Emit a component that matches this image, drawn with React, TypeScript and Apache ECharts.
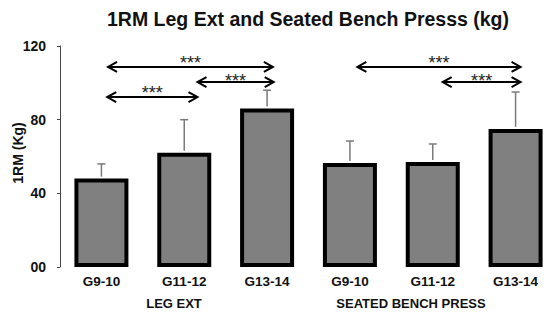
import React, { useEffect, useRef } from "react";
import * as echarts from "echarts";

const categories = ["G9-10", "G11-12", "G13-14", "G9-10", "G11-12", "G13-14"];
const means = [48, 62, 86, 56.5, 57, 75];
const errTops = [56, 80, 96, 68.4, 66.8, 95];
const yTicks = [0, 40, 80, 120];
const yName = "1RM (Kg)";
const groupLabels = ["LEG EXT", "SEATED BENCH PRESS"];
const groupLabelX = [174, 411];

// significance brackets (in category-index units)
const sigFrom = [0.08, 0.07, 1.16, 3.09, 4.12];
const sigTo = [2.07, 1.16, 2.08, 5.06, 5.06];
const sigY = [108.6, 92.3, 100.4, 108.6, 100.4];
const sigLabel = ["***", "***", "***", "***", "***"];
const sigLabelDy = [-4, -4, -1, -4, -1];

const FONT = "Liberation Sans, Arial, sans-serif";

export default function App() {
  const ref = useRef<HTMLDivElement>(null);
  useEffect(() => {
    if (!ref.current) return;
    const chart = echarts.init(ref.current, null, { renderer: "svg" });
    const option: any = {
      animation: false,
      backgroundColor: "#ffffff",
      title: {
        text: "1RM Leg Ext and Seated Bench Presss (kg)",
        left: 303,
        top: 4,
        textAlign: "center",
        textStyle: { fontFamily: FONT, fontSize: 19.5, fontWeight: "bold", color: "#111" },
      },
      grid: { left: 60, right: -7, top: 46, bottom: 56, outerBoundsMode: "none", containLabel: false },
      xAxis: [
        {
          type: "category",
          data: categories,
          axisLine: { show: false },
          axisTick: { show: false },
          axisLabel: {
            fontFamily: FONT,
            fontSize: 13.5,
            fontWeight: "bold",
            color: "#111",
            margin: 7,
          },
        },
        {
          type: "value",
          min: -0.5,
          max: 5.5,
          show: false,
        },
      ],
      yAxis: {
        type: "value",
        min: 0,
        max: 120,
        interval: 40,
        axisLine: { show: true, onZero: false, lineStyle: { color: "#444", width: 1 } },
        axisTick: { show: true, length: 3, lineStyle: { color: "#444" } },
        splitLine: { show: false },
        axisLabel: {
          fontFamily: FONT,
          fontSize: 14,
          fontWeight: "bold",
          color: "#111",
          margin: 14,
          formatter: (v: number) => (yTicks.indexOf(v) >= 0 ? (v === 0 ? "00" : String(v)) : ""),
        },
      },
      graphic: [
        {
          type: "text",
          x: 18,
          y: 153,
          rotation: Math.PI / 2,
          style: {
            text: yName,
            fontFamily: FONT,
            fontSize: 14,
            fontWeight: "bold",
            fill: "#111",
            textAlign: "center",
            textVerticalAlign: "middle",
          },
        },
        ...groupLabels.map((t, i) => ({
          type: "text",
          x: groupLabelX[i],
          y: 303,
          style: {
            text: t,
            fontFamily: FONT,
            fontSize: 13,
            fontWeight: "bold",
            fill: "#111",
            textAlign: "center",
            textVerticalAlign: "middle",
          },
        })),
      ],
      series: [
        {
          type: "bar",
          data: means,
          barWidth: 54,
          itemStyle: { color: "#808080", borderColor: "#000", borderWidth: 4 },
          z: 2,
        },
        {
          type: "custom",
          z: 3,
          encode: { x: 0, y: [1, 2] },
          data: means.map((m, i) => [i, m, errTops[i]]),
          renderItem: (params: any, api: any) => {
            const x = api.value(0);
            const p1 = api.coord([x, api.value(1)]);
            const p2 = api.coord([x, api.value(2)]);
            const st = { stroke: "#7a7a7a", lineWidth: 1.5 };
            return {
              type: "group",
              children: [
                { type: "line", shape: { x1: p1[0], y1: p1[1] - 2, x2: p2[0], y2: p2[1] }, style: st },
                { type: "line", shape: { x1: p2[0] - 4, y1: p2[1], x2: p2[0] + 4, y2: p2[1] }, style: st },
              ],
            };
          },
        },
        {
          type: "custom",
          xAxisIndex: 1,
          z: 4,
          encode: { x: [0, 1], y: 2 },
          data: sigFrom.map((f, i) => [f, sigTo[i], sigY[i], i]),
          renderItem: (params: any, api: any) => {
            const a = api.coord([api.value(0), api.value(2)]);
            const b = api.coord([api.value(1), api.value(2)]);
            const idx = api.value(3);
            const st = { stroke: "#000", lineWidth: 2, fill: null };
            const h = 5;
            const w = 9;
            return {
              type: "group",
              children: [
                { type: "line", shape: { x1: a[0], y1: a[1], x2: b[0], y2: b[1] }, style: st },
                {
                  type: "polyline",
                  shape: { points: [[a[0] + w, a[1] - h], [a[0], a[1]], [a[0] + w, a[1] + h]] },
                  style: st,
                },
                {
                  type: "polyline",
                  shape: { points: [[b[0] - w, b[1] - h], [b[0], b[1]], [b[0] - w, b[1] + h]] },
                  style: st,
                },
                {
                  type: "text",
                  x: (a[0] + b[0]) / 2,
                  y: a[1] + sigLabelDy[idx],
                  style: {
                    text: sigLabel[idx],
                    fontFamily: FONT,
                    fontSize: 18,
                    fill: "#222",
                    textAlign: "center",
                    textVerticalAlign: "middle",
                  },
                },
              ],
            };
          },
        },
      ],
    };
    chart.setOption(option);
    return () => chart.dispose();
  }, []);
  return <div ref={ref} style={{ width: 550, height: 323, position: "absolute", left: 0, top: 0 }} />;
}
